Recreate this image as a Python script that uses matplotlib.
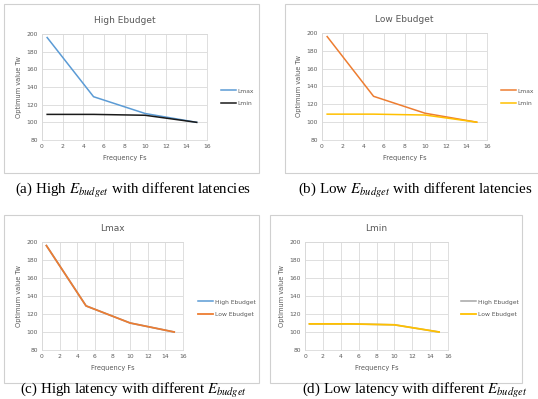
import matplotlib
matplotlib.use("Agg")
import matplotlib.pyplot as plt
from matplotlib.patches import Rectangle

# ---- data ----
freq = [0.5, 5, 10, 15]
lmax_high = [196, 129, 110, 100]
lmin_high = [109, 109, 108, 100]
lmax_low = [196, 129, 110, 100]
lmin_low = [109, 109, 108, 100]

xticks = list(range(0, 17, 2))
yticks = list(range(80, 201, 20))

BLUE, ORANGE, GRAY, YELLOW, BLACK = "#5B9BD5", "#ED7D31", "#A5A5A5", "#FFC000", "#1a1a1a"
GRID = "#D9D9D9"
TXT = "#595959"

W, H = 538, 399
fig = plt.figure(figsize=(W / 100, H / 100), dpi=100)
plt.rcParams["mathtext.fontset"] = "stix"


def fx(px):
    return px / W


def fy(py):
    return 1 - py / H


def box(x0, y0, x1, y1):
    fig.patches.append(Rectangle((fx(x0), fy(y1)), fx(x1) - fx(x0), fy(y0) - fy(y1),
                                 transform=fig.transFigure, fill=False,
                                 ec="#D0D0D0", lw=0.8))


def panel(l, r, t, b, title, series, leg_x, leg_y):
    ax = fig.add_axes([fx(l), fy(b), fx(r) - fx(l), fy(t) - fy(b)])
    handles = []
    for label, ys, c, lw in series:
        (h,) = ax.plot(freq, ys, color=c, lw=lw, label=label)
        handles.append(h)
    ax.set_xlim(0, 16)
    ax.set_ylim(80, 200)
    ax.set_xticks(xticks)
    ax.set_yticks(yticks)
    ax.grid(True, color=GRID, lw=0.6)
    ax.set_axisbelow(True)
    for s in ax.spines.values():
        s.set_color(GRID)
        s.set_linewidth(0.6)
    ax.tick_params(length=0, labelsize=4.3, colors=TXT, pad=3)
    ax.set_xlabel("Frequency Fs", fontsize=4.8, color=TXT, labelpad=4)
    ax.set_ylabel("Optimum value Tw", fontsize=4.8, color=TXT, labelpad=3)
    ax.set_title(title, fontsize=6.5, color=TXT, pad=8)
    fig.legend(handles=handles, loc="upper left", bbox_to_anchor=(fx(leg_x), fy(leg_y)),
               frameon=False, fontsize=4.3, handlelength=2.4, handletextpad=0.3,
               labelspacing=1.2, labelcolor=TXT, borderaxespad=0)
    return ax


box(4, 4, 259, 173)
box(285, 4, 545, 173)
box(4, 215, 259, 383)
box(270, 215, 522, 383)

panel(42, 207, 34, 140, "High Ebudget",
      [("Lmax", lmax_high, BLUE, 1.1), ("Lmin", lmin_high, BLACK, 1.1)], 219, 86)
panel(322, 487, 33, 140, "Low Ebudget",
      [("Lmax", lmax_low, ORANGE, 1.1), ("Lmin", lmin_low, YELLOW, 1.1)], 499, 86)
panel(42, 183, 242, 350, "Lmax",
      [("High Ebudget", lmax_high, BLUE, 1.1), ("Low Ebudget", lmax_low, ORANGE, 1.3)], 196, 297)
panel(305, 448, 242, 350, "Lmin",
      [("High Ebudget", lmin_high, GRAY, 1.1), ("Low Ebudget", lmin_low, YELLOW, 1.3)], 459, 297)

cap = dict(fontsize=10.8, family="Liberation Serif", ha="center", va="center")
fig.text(fx(133), fy(191), r"(a) High $E_{budget}$ with different latencies", **cap)
fig.text(fx(415), fy(190), r"(b) Low $E_{budget}$ with different latencies", **cap)
fig.text(fx(133), fy(391), r"(c) High latency with different $E_{budget}$", **cap)
fig.text(fx(415), fy(391), r"(d) Low latency with different $E_{budget}$", **cap)

fig.savefig("out.png", dpi=100)
